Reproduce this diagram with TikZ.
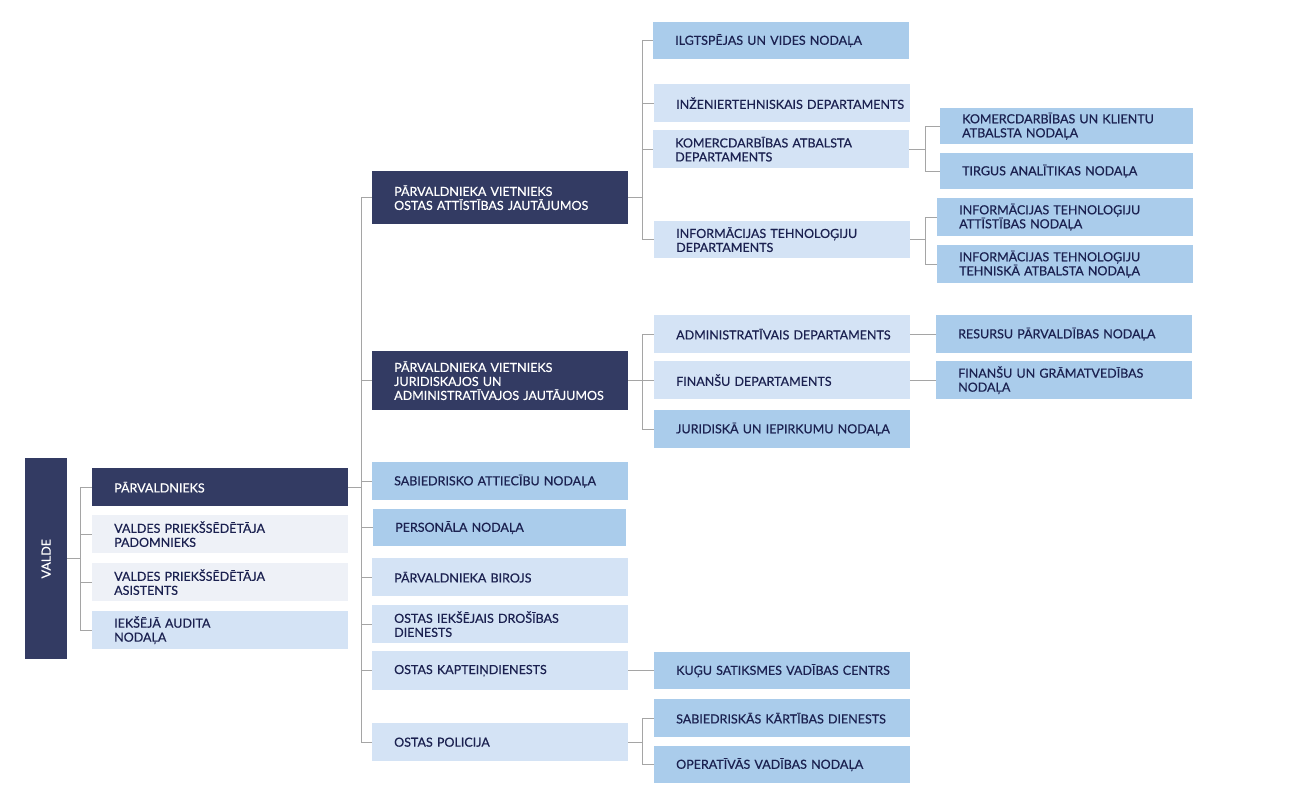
\documentclass[tikz,border=0pt]{standalone}
\usepackage{fontspec}
\setmainfont{Lato}[FakeBold=0.5]
\definecolor{navy}{RGB}{51,59,99}
\definecolor{midblue}{RGB}{170,204,235}
\definecolor{paleblue}{RGB}{212,227,245}
\definecolor{greyblue}{RGB}{238,241,247}
\definecolor{inkblue}{RGB}{27,33,80}
\definecolor{linegrey}{RGB}{165,165,165}
\newcommand\orgfont{\fontsize{12.5}{14}\selectfont}
\tikzset{
  org/.style={anchor=north west, inner xsep=0pt, inner ysep=0pt,
    text width=254pt, minimum width=256pt, minimum height=38pt,
    font=\orgfont, text=inkblue,
    execute at begin node={\leftskip=21pt\rightskip=0pt plus 1fil\hyphenpenalty=10000\relax}},
  head/.style={org, fill=navy, text=white},
  dept/.style={org, fill=paleblue},
  unit/.style={org, fill=midblue},
  aide/.style={org, fill=greyblue},
  link/.style={draw=linegrey, line width=1pt},
}

\begin{document}
\begin{tikzpicture}[x=1pt, y=-1pt]
  \useasboundingbox (0,0) rectangle (1316,794);

  \node[fill=navy, anchor=north west, minimum width=42pt, minimum height=201pt, inner sep=0pt,
    label={[rotate=90, font=\orgfont, text=white]center:VALDE}] (valde) at (25,458) {};

  \node[head] (parv) at (92,468) {PĀRVALDNIEKS};
  \node[aide] (padom) at (92,515) {VALDES PRIEKŠSĒDĒTĀJA\\PADOMNIEKS};
  \node[aide] (asist) at (92,563) {VALDES PRIEKŠSĒDĒTĀJA\\ASISTENTS};
  \node[dept] (audit) at (92,611) {IEKŠĒJĀ AUDITA\\NODAĻA};

  \node[head, minimum height=53pt] (dep1) at (372,171) {PĀRVALDNIEKA VIETNIEKS\\OSTAS ATTĪSTĪBAS JAUTĀJUMOS};
  \node[head, minimum height=59pt] (dep2) at (372,351) {PĀRVALDNIEKA VIETNIEKS\\JURIDISKAJOS UN\\ADMINISTRATĪVAJOS JAUTĀJUMOS};
  \node[unit] (pr) at (372,462) {SABIEDRISKO ATTIECĪBU NODAĻA};
  \node[unit, text width=251pt, minimum width=253pt, minimum height=37pt] (hr) at (373,509) {PERSONĀLA NODAĻA};
  \node[dept] (office) at (372,558) {PĀRVALDNIEKA BIROJS};
  \node[dept] (security) at (372,605) {OSTAS IEKŠĒJAIS DROŠĪBAS\\DIENESTS};
  \node[dept, minimum height=39pt] (harbour) at (372,651) {OSTAS KAPTEIŅDIENESTS};
  \node[dept] (police) at (372,723) {OSTAS POLICIJA};

  \node[unit, minimum height=37pt] (ilgt) at (653,22) {ILGTSPĒJAS UN VIDES NODAĻA};
  \node[dept] (eng) at (654,84) {INŽENIERTEHNISKAIS DEPARTAMENTS};
  \node[dept] (comdep) at (653,130) {KOMERCDARBĪBAS ATBALSTA\\DEPARTAMENTS};
  \node[dept, minimum height=37pt] (itdep) at (654,221) {INFORMĀCIJAS TEHNOLOĢIJU\\DEPARTAMENTS};

  \node[unit, text width=251pt, minimum width=253pt, minimum height=36pt] (comunit) at (940,108) {KOMERCDARBĪBAS UN KLIENTU\\ATBALSTA NODAĻA};
  \node[unit, text width=251pt, minimum width=253pt, minimum height=36pt] (market) at (940,153) {TIRGUS ANALĪTIKAS NODAĻA};
  \node[unit] (itdev) at (937,198) {INFORMĀCIJAS TEHNOLOĢIJU\\ATTĪSTĪBAS NODAĻA};
  \node[unit] (itsup) at (937,245) {INFORMĀCIJAS TEHNOLOĢIJU\\TEHNISKĀ ATBALSTA NODAĻA};

  \node[dept] (admin) at (654,315) {ADMINISTRATĪVAIS DEPARTAMENTS};
  \node[dept] (fin) at (654,361) {FINANŠU DEPARTAMENTS};
  \node[unit] (legal) at (654,410) {JURIDISKĀ UN IEPIRKUMU NODAĻA};
  \node[unit] (res) at (936,315) {RESURSU PĀRVALDĪBAS NODAĻA};
  \node[unit] (acc) at (936,361) {FINANŠU UN GRĀMATVEDĪBAS\\NODAĻA};

  \node[unit, minimum height=37pt] (vts) at (654,652) {KUĢU SATIKSMES VADĪBAS CENTRS};
  \node[unit] (order) at (654,699) {SABIEDRISKĀS KĀRTĪBAS DIENESTS};
  \node[unit, minimum height=37pt] (ops) at (654,746) {OPERATĪVĀS VADĪBAS NODAĻA};

  \foreach \c in {parv,padom,asist,audit}
    \draw[link] (valde.east) -- ++(13,0) |- (\c.west);
  \foreach \c in {dep1,dep2,pr,hr,office,security,harbour,police}
    \draw[link] (parv.east) -- ++(13,0) |- (\c.west);
  \foreach \c in {ilgt,eng,comdep,itdep}
    \draw[link] (dep1.east) -- ++(14,0) |- (\c.west);
  \foreach \c in {comunit,market}
    \draw[link] (comdep.east) -- ++(16,0) |- (\c.west);
  \foreach \c in {itdev,itsup}
    \draw[link] (itdep.east) -- ++(15,0) |- (\c.west);
  \foreach \c in {admin,fin,legal}
    \draw[link] (dep2.east) -- ++(14,0) |- (\c.west);
  \foreach \c in {order,ops}
    \draw[link] (police.east) -- ++(14,0) |- (\c.west);
  \draw[link] (admin.east) -- (res.west);
  \draw[link] (fin.east) -- (acc.west);
  \draw[link] (harbour.east) -- (vts.west);
\end{tikzpicture}
\end{document}
